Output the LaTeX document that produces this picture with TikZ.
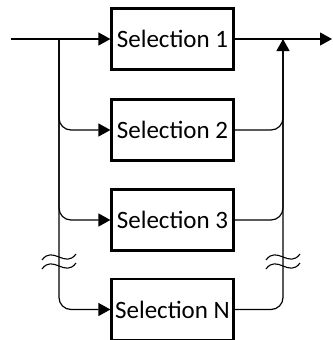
\documentclass[tikz,border=0pt]{standalone}
\usepackage{fontspec}
\setmainfont{Carlito}
\usetikzlibrary{arrows.meta}

\begin{document}
\begin{tikzpicture}[x=1pt,y=-1pt,
    selbox/.style={draw,line width=2.2pt,minimum width=122pt,minimum height=61pt,
      inner sep=0pt,font=\fontsize{25}{30}\selectfont},
    link/.style={line width=1.2pt,rounded corners=12pt},
    flow/.style={link,-{Triangle[length=12pt,width=13pt]}},
    brk/.style={line width=1.1pt}]
      \useasboundingbox (0,0) rectangle (332,340);

      \node[selbox] (sel1) at (172.5,39) {Selection 1};
      \node[selbox] (sel2) at (172.5,130) {Selection 2};
      \node[selbox] (sel3) at (172.5,220) {Selection 3};
      \node[selbox] (selN) at (172.5,309.5) {Selection N};

      \coordinate (in) at (11,39);
      \coordinate (lft) at (59,39);
      \coordinate (rgt) at (283,39);
      \coordinate (out) at (332,39);

      % in and out
      \draw[flow] (in) -- (sel1);
      \draw[flow] (sel1) -- (out);

      % left side
      \draw[flow] (lft) |- (sel2);
      \draw[flow] (lft) |- (sel3);
      \draw[flow] (lft) |- (selN);

      % right side
      \draw[link] (sel2) -| (rgt);
      \draw[link] (sel3) -| (rgt);
      \draw[flow] (selN) -| (rgt);

      % breaks
      \foreach \x in {59,283}{
        \foreach \y in {257,266}{
          \draw[brk] (\x-17,\y+3) .. controls (\x-6,\y-12) and (\x+6,\y+12) .. (\x+17,\y-3);
        }
      }
   \end{tikzpicture}
\end{document}
